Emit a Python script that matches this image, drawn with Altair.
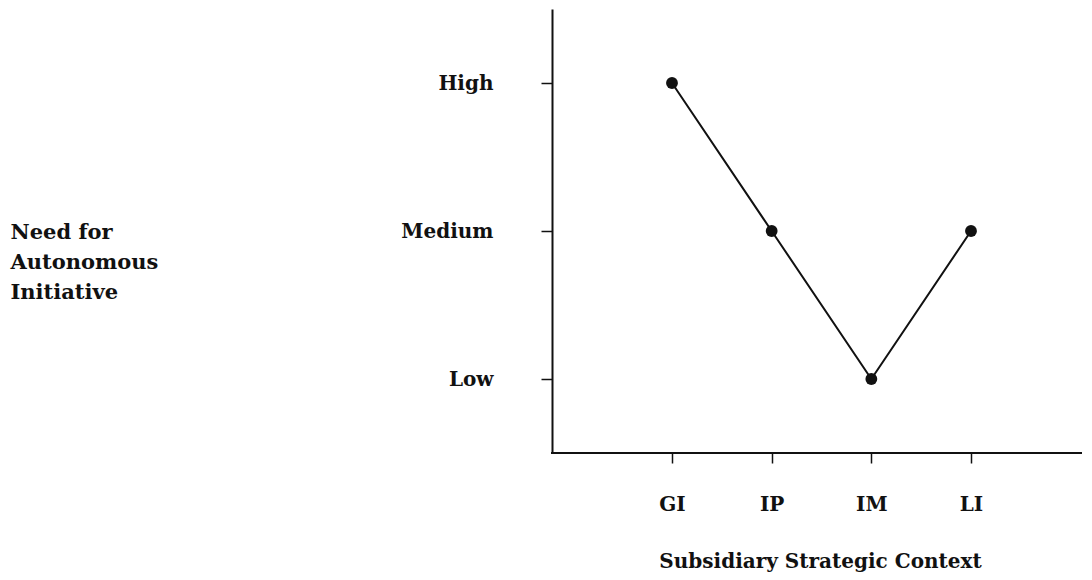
import altair as alt
import pandas as pd

contexts = ["GI", "IP", "IM", "LI"]
need_levels = ["High", "Medium", "Low", "Medium"]
level_order = ["High", "Medium", "Low"]

df = pd.DataFrame({"context": contexts, "need": need_levels})

FONT = "DejaVu Serif"
INK = "#111"
W, H = 530, 444

x_enc = alt.X(
    "context:N",
    sort=contexts,
    scale=alt.Scale(type="point", padding=0, range=[120, 419]),
    axis=alt.Axis(
        title="Subsidiary Strategic Context",
        labelAngle=0,
        labelFont=FONT, labelFontSize=20, labelFontWeight="bold", labelColor=INK,
        labelPadding=31, labelBaseline="top",
        tickSize=10, tickWidth=1.5, tickColor=INK,
        domain=False,
        titleFont=FONT, titleFontSize=20, titleFontWeight="bold", titleColor=INK,
        titleBaseline="top", titleY=98, titleX=268, titleAnchor="middle",
        grid=False,
    ),
)

y_enc = alt.Y(
    "need:N",
    sort=level_order,
    scale=alt.Scale(type="point", padding=0.5, domain=level_order),
    axis=alt.Axis(
        title=["Need for", "Autonomous", "Initiative"],
        labelFont=FONT, labelFontSize=20, labelFontWeight="bold", labelColor=INK,
        labelPadding=48, labelAlign="right", labelBaseline="middle",
        tickSize=11, tickWidth=1.5, tickColor=INK,
        domainColor=INK, domainWidth=2,
        titleFont=FONT, titleFontSize=21, titleFontWeight="bold", titleColor=INK,
        titleAngle=0, titleAlign="left", titleBaseline="top",
        titleX=-542, titleY=212, titleLineHeight=30,
        grid=False,
    ),
)

base = alt.Chart(df).encode(x=x_enc, y=y_enc)

line = base.mark_line(color=INK, strokeWidth=2)
points = base.mark_point(filled=True, color=INK, size=140, opacity=1, shape="circle")

# horizontal axis baseline spanning the full plot width
x_baseline = alt.Chart(df).mark_rule(color=INK, strokeWidth=2).encode(
    x=alt.value(-1), x2=alt.value(W), y=alt.value(H)
)

chart = (
    alt.layer(x_baseline, line, points)
    .properties(
        width=W,
        height=H,
        autosize=alt.AutoSizeParams(type="none"),
        padding={"left": 544, "top": 1, "right": 0, "bottom": 119},
        background="white",
    )
    .configure_view(stroke=None)
)

chart.save("out.html", embed_options={"renderer": "svg", "actions": False})
